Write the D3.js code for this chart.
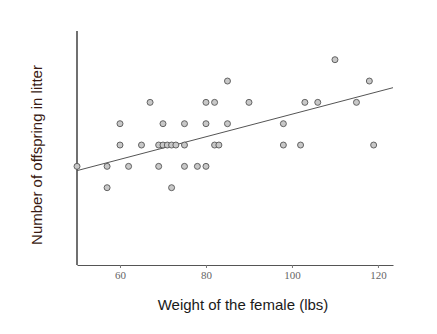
<!DOCTYPE html>
<html><head><meta charset="utf-8">
<script src="https://cdn.jsdelivr.net/npm/d3@7"></script>
<style>body{margin:0;background:#fff}</style>
</head><body>
<svg id="c" width="437" height="334"></svg>
<script>
const weights   = [50,57,57,60,60,62,65,67,69,69,70,70,71,72,72,73,75,75,75,78,80,80,80,82,82,83,85,85,90,98,98,102,103,106,110,115,118,119];
const offspring = [4, 4, 3, 6, 5, 4, 5, 7, 5, 4, 6, 5, 5, 5, 3, 5, 6, 5, 4, 4, 7, 6, 4, 7, 5, 5, 8, 6, 7, 6, 5, 5, 7, 7, 9, 7, 8, 5];
const xTicks = [60, 80, 100, 120];
const fitIntercept = 1.155;
const fitSlope = 0.0529;

const svg = d3.select("#c");
const x = d3.scaleLinear().domain([50, 123.5]).range([77, 393]);
const y = d3.scaleLinear().domain([3, 9]).range([187.7, 59.7]);
const yTop = y.invert(31), yBot = y.invert(265);

// y axis line
svg.append("line").attr("x1",77).attr("x2",77).attr("y1",y(yTop)).attr("y2",y(yBot))
  .attr("stroke","#111").attr("stroke-width",1.2);

// x axis
const xa = svg.append("g").attr("transform","translate(0,265)")
  .call(d3.axisBottom(x).tickValues(xTicks).tickSize(3).tickSizeOuter(0).tickPadding(3));
xa.select(".domain").attr("stroke","#555");
xa.selectAll(".tick line").attr("stroke","#777");
xa.selectAll("text").attr("font-family","Liberation Serif").attr("font-size","11px").attr("fill","#666");

// regression line
const lx = x.domain();
svg.append("line")
  .attr("x1", x(lx[0])).attr("y1", y(fitIntercept + fitSlope*lx[0]))
  .attr("x2", x(lx[1])).attr("y2", y(fitIntercept + fitSlope*lx[1]))
  .attr("stroke","#555").attr("stroke-width",1);

// points
svg.append("g").selectAll("circle").data(weights.map((w,i)=>[w,offspring[i]])).join("circle")
  .attr("cx", d=>x(d[0])).attr("cy", d=>y(d[1])).attr("r",3)
  .attr("fill","#c8c8c8").attr("stroke","#555").attr("stroke-width",0.9);

// labels
svg.append("text").attr("x",243).attr("y",310).attr("text-anchor","middle")
  .attr("font-family","Liberation Sans, Arial").attr("font-size","15px").attr("fill","#1a1a1a")
  .text("Weight of the female (lbs)");
svg.append("text").attr("transform","translate(42,155) rotate(-90)").attr("text-anchor","middle")
  .attr("font-family","Liberation Sans, Arial").attr("font-size","15px").attr("fill","#3a1a12")
  .text("Number of offspring in litter");
</script>
</body></html>
